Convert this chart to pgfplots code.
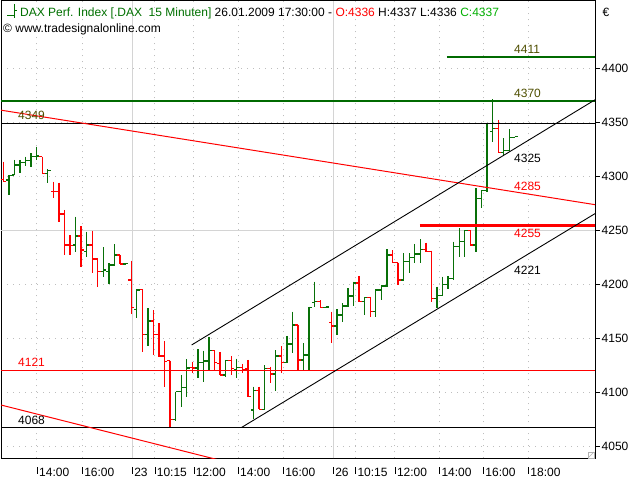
\documentclass[border=0pt]{standalone}
\usepackage{fontspec}
\setmainfont{Liberation Sans}
\usepackage{pgfplots}
\usepackage{pgfplotstable}
\pgfplotsset{compat=1.18}
\definecolor{upc}{HTML}{087008}
\definecolor{dnc}{HTML}{FF0000}
\definecolor{lgreen}{HTML}{006A00}
\definecolor{gridc}{HTML}{BEBEBE}
\definecolor{daysep}{HTML}{D4D4D4}
\definecolor{olv}{HTML}{4F4F00}
\definecolor{hdrgreen}{HTML}{007000}
\definecolor{cgreen}{HTML}{00B000}
\newcommand\f{\fontsize{12bp}{14bp}\selectfont}
\newcommand\tk{\rule[3bp]{0.8bp}{7bp}\hspace{1.3bp}}

\pgfplotstableread{
k O H L C
2 4297.0 4301.6 4283.1 4301.0
3 4301.6 4315.5 4301.6 4310.8
4 4310.8 4315.5 4303.7 4313.0
5 4313.0 4318.5 4309.9 4314.8
6 4314.8 4321.7 4309.3 4318.5
7 4318.5 4327.8 4315.5 4319.2
9 4303.1 4306.8 4293.9 4305.6
14 4236.8 4263.0 4230.5 4245.1
16 4230.5 4249.1 4225.4 4236.8
19 4212.0 4234.6 4206.9 4213.6
20 4212.0 4219.8 4200.4 4218.2
21 4218.2 4237.4 4217.6 4227.5
23 4219.2 4220.0 4218.5 4219.4
25 4177.2 4195.7 4168.9 4195.1
27 4154.1 4178.1 4143.5 4166.4
32 4075.4 4100.9 4074.1 4100.9
33 4100.9 4116.4 4086.5 4105.0
34 4105.0 4130.9 4095.7 4122.9
36 4122.9 4140.2 4113.3 4127.8
37 4127.8 4138.9 4110.2 4129.3
38 4129.3 4151.8 4121.0 4138.9
41 4116.4 4130.3 4114.5 4129.6
43 4121.0 4131.6 4113.6 4123.5
46 4084.0 4105.6 4075.4 4101.8
48 4084.6 4125.6 4084.6 4122.6
50 4117.3 4139.5 4101.8 4134.0
52 4127.8 4152.5 4127.8 4145.1
53 4145.1 4175.0 4136.5 4162.7
55 4130.3 4145.7 4121.0 4134.9
56 4134.9 4179.6 4121.0 4179.1
57 4183.3 4202.8 4179.1 4184.3
59 4179.1 4179.8 4178.4 4179.3
61 4161.8 4177.2 4153.4 4171.9
62 4171.9 4182.8 4165.7 4180.3
63 4180.3 4196.7 4179.6 4189.5
64 4189.5 4202.8 4180.3 4201.6
66 4184.3 4188.5 4171.5 4188.0
68 4175.0 4195.7 4170.4 4195.1
69 4195.1 4199.7 4185.8 4198.8
70 4198.8 4232.8 4198.2 4227.5
73 4204.4 4229.1 4204.4 4221.3
74 4221.3 4229.1 4211.1 4225.4
75 4225.4 4237.7 4220.4 4228.5
76 4228.5 4242.0 4220.4 4232.8
79 4187.4 4198.2 4178.1 4190.0
80 4190.0 4207.4 4190.0 4200.0
81 4200.0 4208.0 4196.0 4206.0
82 4206.0 4239.8 4204.4 4235.2
83 4235.2 4252.2 4225.9 4239.8
84 4239.8 4250.6 4225.9 4250.0
86 4236.8 4289.3 4230.5 4280.0
87 4280.0 4287.7 4270.7 4287.0
88 4287.0 4349.4 4286.1 4349.4
89 4341.7 4371.7 4332.4 4344.8
91 4322.2 4335.6 4319.2 4324.1
92 4324.1 4343.9 4324.1 4336.5
93 4336.0 4337.0 4336.0 4337.0
}\uptab

\pgfplotstableread{
k O H L C
1 4297.6 4313.9 4295.4 4295.4
8 4318.5 4318.5 4303.1 4303.1
10 4286.5 4295.4 4280.0 4286.0
11 4286.1 4294.4 4258.3 4265.5
12 4265.5 4269.2 4227.5 4236.8
13 4236.8 4246.0 4227.5 4236.5
15 4245.1 4254.3 4216.1 4232.1
17 4236.8 4250.0 4211.1 4223.8
18 4223.8 4223.8 4197.6 4212.0
22 4227.5 4227.5 4219.2 4219.2
24 4204.4 4222.2 4172.6 4178.7
26 4195.7 4195.7 4137.9 4154.1
28 4166.4 4176.5 4134.9 4154.1
29 4154.1 4164.5 4133.3 4134.0
30 4134.0 4147.9 4105.6 4129.0
31 4129.6 4129.6 4067.5 4075.4
35 4123.2 4128.7 4118.0 4122.9
39 4138.9 4138.9 4121.0 4127.8
40 4127.2 4137.9 4116.4 4116.4
42 4129.6 4134.0 4116.4 4122.6
44 4123.5 4126.6 4118.0 4121.0
45 4122.0 4130.3 4096.3 4096.3
47 4101.8 4105.6 4084.6 4084.6
49 4122.6 4124.1 4109.0 4117.3
51 4134.0 4143.2 4118.0 4127.8
54 4162.7 4162.7 4121.0 4130.3
58 4184.3 4185.8 4179.1 4179.1
60 4164.8 4175.0 4145.7 4161.8
65 4201.6 4208.1 4184.3 4184.3
67 4188.0 4188.9 4170.4 4175.0
71 4227.5 4232.1 4220.4 4220.4
72 4220.4 4220.4 4199.7 4204.4
77 4232.8 4238.9 4230.5 4230.5
78 4230.5 4231.5 4184.3 4187.4
85 4250.0 4250.6 4236.8 4236.8
90 4344.8 4352.5 4321.7 4322.2
}\dntab

\pgfplotsset{
 ohlc/.style={draw=none, mark=none, forget plot,
   error bars/error mark=none,
   error bars/error bar style={draw=#1, line width=1.3bp}},
}

\begin{document}
\begin{tikzpicture}
\path[use as bounding box, fill=white] (-1bp,-21.5bp) rectangle (639bp,458.5bp);
\begin{axis}[at={(0,0)}, anchor=south west, scale only axis,
 width=594bp, height=457.5bp,
 xmin=0.586, xmax=107.42, ymin=4039.07, ymax=4462.69,
 axis line style={black, line width=1bp},
 xtick={7.04,15.15,24.15,28.2,35.2,43.2,51.3,60.3,64.3,71.4,79.4,87.3,95.4},
 xticklabels={\tk 14:00,\tk 16:00,\tk 23,\tk 10:15,\tk 12:00,\tk 14:00,\tk 16:00,\tk 26,\tk 10:15,\tk 12:00,\tk 14:00,\tk 16:00,\tk 18:00},
 xtick style={draw=none},
 xticklabel style={anchor=north west, inner sep=0pt, yshift=-3.1bp, font=\f},
 ytick={4050,4100,...,4400},
 ytick pos=right, yticklabel pos=right,
 tick align=outside, major tick length=5bp,
 ytick style={black, line width=0.8bp},
 yticklabel style={anchor=west, inner xsep=1.5bp, font=\f},
 /pgf/number format/1000 sep={},
 /pgf/number format/assume math mode=true,
 grid=major, major grid style={gridc, line width=0.8bp, dash pattern=on 1bp off 5bp},
]
% separators
\addplot[forget plot, daysep, line width=1bp] coordinates {(24.15,4039.07) (24.15,4462.69)};
\addplot[forget plot, daysep, line width=1bp] coordinates {(60.3,4039.07) (60.3,4462.69)};
\addplot[forget plot, daysep, line width=1bp] coordinates {(0.586,4250) (107.42,4250)};
% up bars
\addplot[ohlc=upc, error bars/.cd, y dir=both, y explicit]
 table[x=k, y=H, y error plus expr=0, y error minus expr=\thisrow{H}-\thisrow{L}] {\uptab};
\addplot[ohlc=upc, error bars/.cd, x dir=minus, x fixed=0.5]
 table[x=k, y=O] {\uptab};
\addplot[ohlc=upc, error bars/.cd, x dir=plus, x fixed=0.5]
 table[x=k, y=C] {\uptab};
% down bars
\addplot[ohlc=dnc, error bars/.cd, y dir=both, y explicit]
 table[x=k, y=H, y error plus expr=0, y error minus expr=\thisrow{H}-\thisrow{L}] {\dntab};
\addplot[ohlc=dnc, error bars/.cd, x dir=minus, x fixed=0.5]
 table[x=k, y=O] {\dntab};
\addplot[ohlc=dnc, error bars/.cd, x dir=plus, x fixed=0.5]
 table[x=k, y=C] {\dntab};
% horizontal lines
\addplot[forget plot, lgreen, line width=2.2bp] coordinates {(0.586,4370) (107.42,4370)};
\addplot[forget plot, lgreen, line width=2bp] coordinates {(80.8,4411) (107.42,4411)};
\addplot[forget plot, black, line width=1bp] coordinates {(0.586,4349) (107.42,4349)};
\addplot[forget plot, red, line width=1bp] coordinates {(0.586,4121) (107.42,4121)};
\addplot[forget plot, black, line width=1.2bp] coordinates {(0.586,4068) (107.42,4068)};
\addplot[forget plot, red, line width=3bp] coordinates {(75.9,4255) (107.42,4255)};
% trend lines
\addplot[forget plot, red, line width=1bp] coordinates {(0.586,4361.6) (107.42,4274.1)};
\addplot[forget plot, red, line width=1bp] coordinates {(0.586,4088.6) (40,4037.4)};
\addplot[forget plot, black, line width=0.9bp] coordinates {(34.88,4144.2) (107.42,4371.2)};
\addplot[forget plot, black, line width=0.9bp] coordinates {(43.88,4067.9) (107.42,4265.8)};
% labels
\node[anchor=west, inner sep=0pt, font=\f, text=olv] at (axis cs:92.85,4418) {4411};
\node[anchor=west, inner sep=0pt, font=\f, text=olv] at (axis cs:92.85,4377) {4370};
\node[anchor=west, inner sep=0pt, font=\f, text=black] at (axis cs:92.85,4316.8) {4325};
\node[anchor=west, inner sep=0pt, font=\f, text=red] at (axis cs:92.85,4291.4) {4285};
\node[anchor=west, inner sep=0pt, font=\f, text=red] at (axis cs:92.85,4247.9) {4255};
\node[anchor=west, inner sep=0pt, font=\f, text=black] at (axis cs:92.85,4213.6) {4221};
\node[anchor=west, inner sep=0pt, font=\f, text=olv] at (axis cs:3.64,4357.1) {4349};
\node[anchor=west, inner sep=0pt, font=\f, text=red] at (axis cs:3.64,4128.4) {4121};
\node[anchor=west, inner sep=0pt, font=\f, text=black] at (axis cs:3.64,4074.7) {4068};
\end{axis}
% header
\draw[hdrgreen, line width=1bp] (13.4bp,454.5bp) -- (13.4bp,440bp);
\draw[hdrgreen, line width=1bp] (6.4bp,442.9bp) -- (13.4bp,442.9bp);
\draw[hdrgreen, line width=1bp] (13.4bp,448.2bp) -- (16.2bp,448.2bp);
\node[anchor=base west, inner sep=0pt, font=\f] at (19bp,441.5bp) {\textcolor{hdrgreen}{DAX Perf. Index [.DAX\ \ 15 Minuten]} 26.01.2009 17:30:00 - \textcolor{red}{O:4336} H:4337 L:4336 \textcolor{cgreen}{C:4337}};
\node[anchor=base west, inner sep=0pt, font=\f] at (2bp,425.5bp) {© www.tradesignalonline.com};
\node[anchor=base west, inner sep=0pt, font=\f] at (601.5bp,441.5bp) {€};
\draw[gray!60, line width=0.6bp] (587bp,0.5bp) rectangle (593bp,6.5bp);
\draw[gray!60, line width=0.6bp] (587bp,0.5bp) -- (593bp,6.5bp);
\end{tikzpicture}
\end{document}
